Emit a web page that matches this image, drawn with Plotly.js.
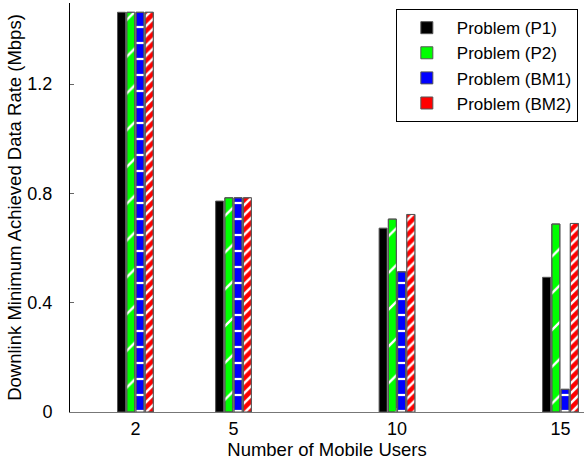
<!DOCTYPE html>
<html>
<head>
<meta charset="utf-8">
<script src="https://cdn.plot.ly/plotly-3.0.1.min.js"></script>
<style>html,body{margin:0;padding:0;background:#fff}#chart{width:584px;height:466px}</style>
</head>
<body>
<div id="chart"></div>
<script>
const users = [2, 5, 10, 15];
const seriesNames = ['Problem (P1)', 'Problem (P2)', 'Problem (BM1)', 'Problem (BM2)'];
const p1  = [1.463, 0.772, 0.673, 0.493];
const p2  = [1.463, 0.784, 0.706, 0.688];
const bm1 = [1.463, 0.784, 0.513, 0.083];
const bm2 = [1.463, 0.784, 0.723, 0.690];
const colors = ['#000000', '#00ff00', '#0000ff', '#ff0000'];
const yTicks = [0, 0.4, 0.8, 1.2];
const yTickText = ['0', '0.4', '0.8', '1.2'];

const values = [p1, p2, bm1, bm2];
const patterns = [
  null,
  {shape: '/', size: 26, solidity: 0.09},
  {shape: '-', size: 16, solidity: 0.14},
  {shape: '/', size: 7, solidity: 0.35}
];

const traces = [];
values.forEach((v, i) => {
  traces.push({
    type: 'bar', x: users, y: v, name: seriesNames[i],
    offsetgroup: 'g' + i,
    marker: {color: colors[i], line: {color: '#555', width: 1}},
    hoverinfo: 'x+y+name'
  });
});
values.forEach((v, i) => {
  if (!patterns[i]) return;
  traces.push({
    type: 'bar', x: users, y: v, name: seriesNames[i], showlegend: false,
    offsetgroup: 'g' + i,
    marker: {
      color: 'rgba(0,0,0,0)',
      line: {color: '#555', width: 1},
      pattern: Object.assign({fgcolor: '#ffffff', bgcolor: 'rgba(0,0,0,0)', fillmode: 'replace'}, patterns[i])
    },
    hoverinfo: 'skip'
  });
});

const font = {family: 'Liberation Sans, Arial, sans-serif', color: '#000'};

const layout = {
  width: 584, height: 466,
  margin: {l: 70, r: 0, t: 3, b: 54},
  paper_bgcolor: '#fff', plot_bgcolor: '#fff',
  barmode: 'group', bargap: 0.623, bargroupgap: 0.135,
  font: Object.assign({size: 18}, font),
  xaxis: {
    range: [0, 15.72], tickvals: users, ticktext: users.map(String),
    showgrid: false, zeroline: false, showline: true, linecolor: '#777', linewidth: 1,
    ticks: 'inside', ticklen: 4, tickcolor: '#777',
    tickfont: Object.assign({size: 18}, font),
    title: {text: 'Number of Mobile Users', font: Object.assign({size: 18.5}, font), standoff: 4}
  },
  yaxis: {
    range: [0, 1.497], tickvals: yTicks, ticktext: yTickText,
    showgrid: false, zeroline: false, showline: true, linecolor: '#000', linewidth: 1,
    ticks: 'inside', ticklen: 4, tickcolor: '#666', ticklabelstandoff: 13,
    tickfont: Object.assign({size: 18}, font),
    title: {text: 'Downlink Minimum Achieved Data Rate (Mbps)', font: Object.assign({size: 18.5}, font), standoff: 0}
  },
  legend: {
    x: 0.988, xanchor: 'right', y: 0.985, yanchor: 'top',
    bgcolor: '#fff', bordercolor: '#000', borderwidth: 1,
    font: Object.assign({size: 17}, font),
    itemwidth: 50, tracegroupgap: 0
  },
  showlegend: true
};

Plotly.newPlot('chart', traces, layout, {displayModeBar: false, staticPlot: true});
</script>
</body>
</html>
